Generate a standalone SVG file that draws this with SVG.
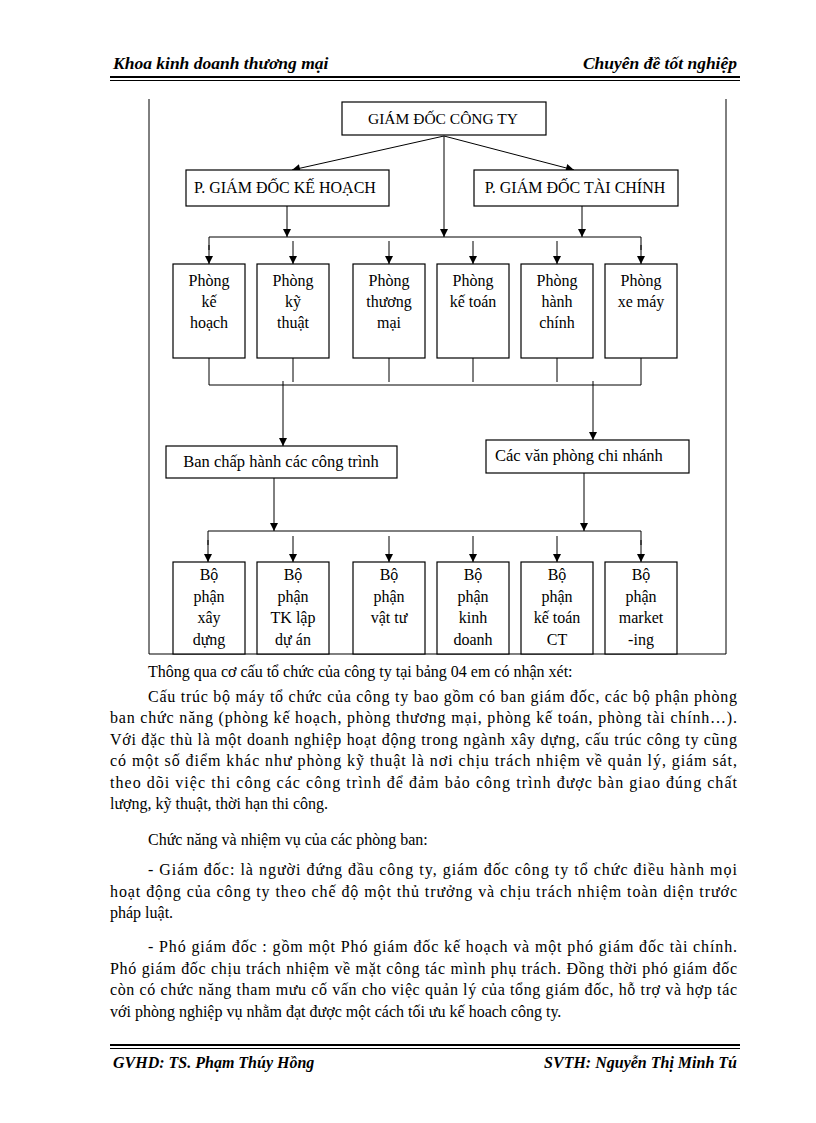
<svg xmlns="http://www.w3.org/2000/svg" width="816" height="1123" viewBox="0 0 816 1123">
<defs>
<marker id="ah" viewBox="0 0 10 10" refX="10" refY="5" markerWidth="9" markerHeight="8" markerUnits="userSpaceOnUse" orient="auto">
<path d="M0,0 L10,5 L0,10 z" fill="#000"/>
</marker>
<style>
.bx{fill:#fff;stroke:#000;stroke-width:1.2}
.ln{fill:none;stroke:#000;stroke-width:1}
.ar{fill:none;stroke:#000;stroke-width:1;marker-end:url(#ah)}
.t{font-family:"Liberation Serif","Times New Roman",serif;font-size:16px;fill:#000}
.c{text-anchor:middle}
.hd{font-family:"Liberation Serif","Times New Roman",serif;font-size:16px;font-weight:bold;font-style:italic;fill:#000}
.b{font-family:"Liberation Serif","Times New Roman",serif;font-size:16px;fill:#000}
</style>
</defs>
<rect width="816" height="1123" fill="#fff"/>

<g id="header">
<text class="hd" x="113" y="69" style="font-size:17.5px">Khoa kinh doanh thương mại</text>
<text class="hd" x="737" y="69" text-anchor="end" style="font-size:17.5px">Chuyên đề tốt nghiệp</text>
<line x1="110" y1="77" x2="740" y2="77" stroke="#000" stroke-width="2"/>
<line x1="110" y1="80.5" x2="740" y2="80.5" stroke="#000" stroke-width="1"/>
</g>

<g id="frame">
<line class="ln" x1="149" y1="99" x2="149" y2="654"/>
<line class="ln" x1="726" y1="99" x2="726" y2="654"/>
<line class="ln" x1="149" y1="654" x2="726" y2="654"/>
</g>

<g id="connectors">
<line class="ar" x1="444" y1="136" x2="292" y2="170"/>
<line class="ar" x1="444" y1="136" x2="574" y2="170"/>
<line class="ar" x1="444" y1="136" x2="444" y2="237"/>
<line class="ar" x1="287" y1="206" x2="287" y2="237"/>
<line class="ar" x1="582" y1="206" x2="582" y2="237"/>
<polyline class="ln" points="209,250 209,237 641,237 641,250"/>
<line class="ar" x1="209" y1="245" x2="209" y2="264"/>
<line class="ar" x1="641" y1="245" x2="641" y2="264"/>
<line class="ar" x1="293" y1="241" x2="293" y2="264"/>
<line class="ar" x1="389" y1="241" x2="389" y2="264"/>
<line class="ar" x1="473" y1="241" x2="473" y2="264"/>
<line class="ar" x1="557" y1="241" x2="557" y2="264"/>
<polyline class="ln" points="209,358 209,385 641,385 641,358"/>
<line class="ln" x1="293" y1="358" x2="293" y2="382"/>
<line class="ln" x1="389" y1="358" x2="389" y2="382"/>
<line class="ln" x1="473" y1="358" x2="473" y2="382"/>
<line class="ln" x1="557" y1="358" x2="557" y2="382"/>
<line class="ar" x1="283" y1="381" x2="283" y2="446"/>
<line class="ar" x1="593" y1="381" x2="593" y2="440"/>
<line class="ar" x1="274" y1="478" x2="274" y2="531"/>
<line class="ar" x1="584" y1="473" x2="584" y2="531"/>
<polyline class="ln" points="208,545 208,531 641,531 641,545"/>
<line class="ar" x1="208" y1="540" x2="208" y2="562"/>
<line class="ar" x1="641" y1="540" x2="641" y2="562"/>
<line class="ar" x1="293" y1="536" x2="293" y2="562"/>
<line class="ar" x1="389" y1="536" x2="389" y2="562"/>
<line class="ar" x1="473" y1="536" x2="473" y2="562"/>
<line class="ar" x1="557" y1="536" x2="557" y2="562"/>
</g>

<g id="giam-doc">
<rect class="bx" x="342" y="102" width="204" height="33"/>
<text class="t c" x="443" y="124" style="font-size:15.5px">GIÁM ĐỐC CÔNG TY</text>
</g>
<g id="pgd-ke-hoach">
<rect class="bx" x="186" y="170" width="203" height="36"/>
<text class="t c" x="285" y="193" style="font-size:16px">P. GIÁM ĐỐC KẾ HOẠCH</text>
</g>
<g id="pgd-tai-chinh">
<rect class="bx" x="474" y="170" width="204" height="36"/>
<text class="t c" x="575" y="193" style="font-size:16px">P. GIÁM ĐỐC TÀI CHÍNH</text>
</g>

<g id="phong-ke-hoach">
<rect class="bx" x="173" y="264" width="72" height="94"/>
<text class="t c" x="209" y="286">Phòng<tspan x="209" dy="21">kế</tspan><tspan x="209" dy="21">hoạch</tspan></text>
</g>
<g id="phong-ky-thuat">
<rect class="bx" x="257" y="264" width="72" height="94"/>
<text class="t c" x="293" y="286">Phòng<tspan x="293" dy="21">kỹ</tspan><tspan x="293" dy="21">thuật</tspan></text>
</g>
<g id="phong-thuong-mai">
<rect class="bx" x="353" y="264" width="72" height="94"/>
<text class="t c" x="389" y="286">Phòng<tspan x="389" dy="21">thương</tspan><tspan x="389" dy="21">mại</tspan></text>
</g>
<g id="phong-ke-toan">
<rect class="bx" x="437" y="264" width="72" height="94"/>
<text class="t c" x="473" y="286">Phòng<tspan x="473" dy="21">kế toán</tspan></text>
</g>
<g id="phong-hanh-chinh">
<rect class="bx" x="521" y="264" width="72" height="94"/>
<text class="t c" x="557" y="286">Phòng<tspan x="557" dy="21">hành</tspan><tspan x="557" dy="21">chính</tspan></text>
</g>
<g id="phong-xe-may">
<rect class="bx" x="605" y="264" width="72" height="94"/>
<text class="t c" x="641" y="286">Phòng<tspan x="641" dy="21">xe máy</tspan></text>
</g>

<g id="ban-chap-hanh">
<rect class="bx" x="166" y="446" width="231" height="32"/>
<text class="t c" x="281" y="467" style="font-size:16.5px">Ban chấp hành các công trình</text>
</g>
<g id="van-phong-chi-nhanh">
<rect class="bx" x="486" y="440" width="203" height="33"/>
<text class="t" x="495" y="461" style="font-size:16.5px">Các văn phòng chi nhánh</text>
</g>

<g id="bp-xay-dung">
<rect class="bx" x="173" y="562" width="72" height="92"/>
<text class="t c" x="209" y="580">Bộ<tspan x="209" dy="21.5">phận</tspan><tspan x="209" dy="21.5">xây</tspan><tspan x="209" dy="21.5">dựng</tspan></text>
</g>
<g id="bp-tk-lap-du-an">
<rect class="bx" x="257" y="562" width="72" height="92"/>
<text class="t c" x="293" y="580">Bộ<tspan x="293" dy="21.5">phận</tspan><tspan x="293" dy="21.5">TK lập</tspan><tspan x="293" dy="21.5">dự án</tspan></text>
</g>
<g id="bp-vat-tu">
<rect class="bx" x="353" y="562" width="72" height="92"/>
<text class="t c" x="389" y="580">Bộ<tspan x="389" dy="21.5">phận</tspan><tspan x="389" dy="21.5">vật tư</tspan></text>
</g>
<g id="bp-kinh-doanh">
<rect class="bx" x="437" y="562" width="72" height="92"/>
<text class="t c" x="473" y="580">Bộ<tspan x="473" dy="21.5">phận</tspan><tspan x="473" dy="21.5">kinh</tspan><tspan x="473" dy="21.5">doanh</tspan></text>
</g>
<g id="bp-ke-toan-ct">
<rect class="bx" x="521" y="562" width="72" height="92"/>
<text class="t c" x="557" y="580">Bộ<tspan x="557" dy="21.5">phận</tspan><tspan x="557" dy="21.5">kế toán</tspan><tspan x="557" dy="21.5">CT</tspan></text>
</g>
<g id="bp-marketing">
<rect class="bx" x="605" y="562" width="72" height="92"/>
<text class="t c" x="641" y="580">Bộ<tspan x="641" dy="21.5">phận</tspan><tspan x="641" dy="21.5">market</tspan><tspan x="641" dy="21.5">-ing</tspan></text>
</g>

<g id="body-text">
<text class="b" x="148" y="677">Thông qua cơ cấu tổ chức của công ty tại bảng 04 em có nhận xét:</text>
<text class="b" x="148" y="702" textLength="589" lengthAdjust="spacing">Cấu trúc bộ máy tổ chức của công ty bao gồm có ban giám đốc, các bộ phận phòng</text>
<text class="b" x="110" y="723" textLength="627" lengthAdjust="spacing">ban chức năng (phòng kế hoạch, phòng thương mại, phòng kế toán, phòng tài chính…).</text>
<text class="b" x="110" y="745" textLength="627" lengthAdjust="spacing">Với đặc thù là một doanh nghiệp hoạt động trong ngành xây dựng, cấu trúc công ty cũng</text>
<text class="b" x="110" y="766" textLength="627" lengthAdjust="spacing">có một số điểm khác như phòng kỹ thuật là nơi chịu trách nhiệm về quản lý, giám sát,</text>
<text class="b" x="110" y="788" textLength="627" lengthAdjust="spacing">theo dõi việc thi công các công trình để đảm bảo công trình được bàn giao đúng chất</text>
<text class="b" x="110" y="809">lượng, kỹ thuật, thời hạn thi công.</text>
<text class="b" x="148" y="845">Chức năng và nhiệm vụ của các phòng ban:</text>
<text class="b" x="148" y="875" textLength="589" lengthAdjust="spacing">- Giám đốc: là người đứng đầu công ty, giám đốc công ty tổ chức điều hành mọi</text>
<text class="b" x="110" y="897" textLength="627" lengthAdjust="spacing">hoạt động của công ty theo chế độ một thủ trưởng và chịu trách nhiệm toàn diện trước</text>
<text class="b" x="110" y="918">pháp luật.</text>
<text class="b" x="148" y="952" textLength="589" lengthAdjust="spacing">- Phó giám đốc : gồm một Phó giám đốc kế hoạch và một phó giám đốc tài chính.</text>
<text class="b" x="110" y="974" textLength="627" lengthAdjust="spacing">Phó giám đốc chịu trách nhiệm về mặt công tác mình phụ trách. Đồng thời phó giám đốc</text>
<text class="b" x="110" y="995" textLength="627" lengthAdjust="spacing">còn có chức năng tham mưu cố vấn cho việc quản lý của tổng giám đốc, hỗ trợ và hợp tác</text>
<text class="b" x="110" y="1017">với phòng nghiệp vụ nhằm đạt được một cách tối ưu kế hoach công ty.</text>
</g>

<g id="footer">
<line x1="110" y1="1045" x2="740" y2="1045" stroke="#000" stroke-width="2"/>
<line x1="110" y1="1048.5" x2="740" y2="1048.5" stroke="#000" stroke-width="1"/>
<text class="hd" x="113" y="1068">GVHD: TS. Phạm Thúy Hồng</text>
<text class="hd" x="737" y="1068" text-anchor="end">SVTH: Nguyễn Thị Minh Tú</text>
</g>
</svg>
